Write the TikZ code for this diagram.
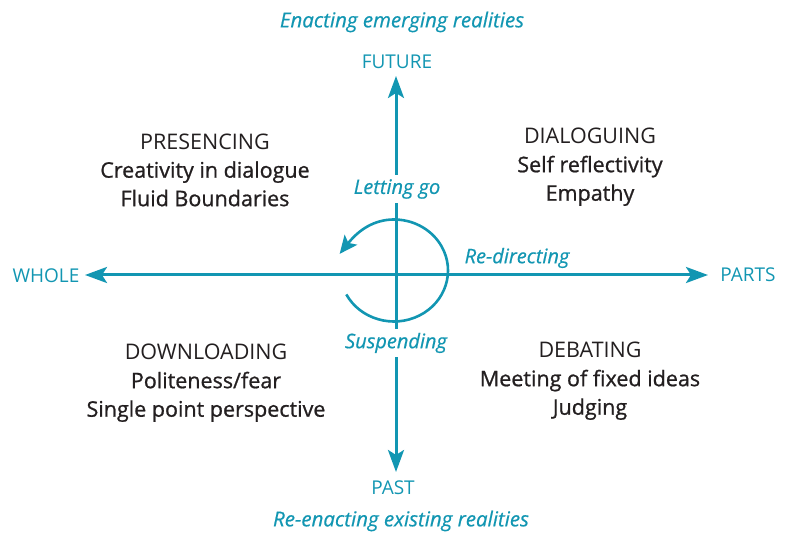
\documentclass[tikz,border=0pt]{standalone}
\usepackage{fontspec}
\setmainfont{Open Sans}
\newfontfamily\heavyfont{Open Sans}[FakeBold=0.9]
\newfontfamily\slantfont{Open Sans Italic}[FakeBold=0.6]
\usetikzlibrary{arrows.meta}

\definecolor{axisblue}{RGB}{18,150,178}
\definecolor{inkgray}{RGB}{35,31,32}

\tikzset{
  axisline/.style={draw=axisblue, line width=3pt,
    {Stealth[length=22pt,width=16pt,inset=5pt]}-{Stealth[length=22pt,width=16pt,inset=5pt]}},
  loopline/.style={draw=axisblue, line width=2.6pt,
    -{Stealth[length=18pt,width=16pt,inset=4pt]}, shorten >=-18pt},
  pole/.style={text=axisblue, font=\fontsize{19}{21}\selectfont},
  realm/.style={text=axisblue, font=\fontsize{20.5}{23}\slantfont},
  move/.style={text=axisblue, fill=white, inner xsep=2pt, inner ysep=4pt,
    font=\fontsize{20}{22}\slantfont},
  field/.style={text=inkgray, align=center, font=\fontsize{21.5}{28.5}\selectfont},
}

\begin{document}
\begin{tikzpicture}[x=1pt, y=-1pt]
  \useasboundingbox (0,0) rectangle (785,534);

  % ends of the two axes
  \coordinate (w) at (85,275);
  \coordinate (p) at (708,275);
  \coordinate (f) at (396,76);
  \coordinate (b) at (396,472);

  \draw[axisline] (w) -- (p);
  \draw[axisline] (f) -- (b);

  % turning loop round the centre
  \draw[loopline] (394,270.5) ++(-208:54 and 51)
    arc[start angle=-208, end angle=-503, x radius=54, y radius=51];

  % poles
  \node[pole] (whole) at (46,276) {WHOLE};
  \node[pole] (parts) at (748,275) {PARTS};
  \node[pole] (future) at (397,62) {FUTURE};
  \node[pole] (past) at (393,488) {PAST};

  \node[realm] (enact) at (402,22) {Enacting emerging realities};
  \node[realm] (reenact) at (401,521) {Re-enacting existing realities};

  % movements on the loop
  \node[move] (letgo) at (397,189) {Letting go};
  \node[move] (suspend) at (396,343) {Suspending};
  \node[move, fill=none] (redirect) at (517,258) {Re-directing};

  % the four fields
  \node[field] (presencing) at (205,170)
    {PRESENCING\\{\heavyfont Creativity in dialogue}\\{\heavyfont Fluid Boundaries}};
  \node[field] (dialoguing) at (590,167)
    {DIALOGUING\\{\heavyfont Self reflectivity}\\{\heavyfont Empathy}};
  \node[field] (downloading) at (206,383)
    {DOWNLOADING\\{\heavyfont Politeness/fear}\\{\heavyfont Single point perspective}};
  \node[field] (debating) at (590,381)
    {DEBATING\\{\heavyfont Meeting of fixed ideas}\\{\heavyfont Judging}};
\end{tikzpicture}
\end{document}
